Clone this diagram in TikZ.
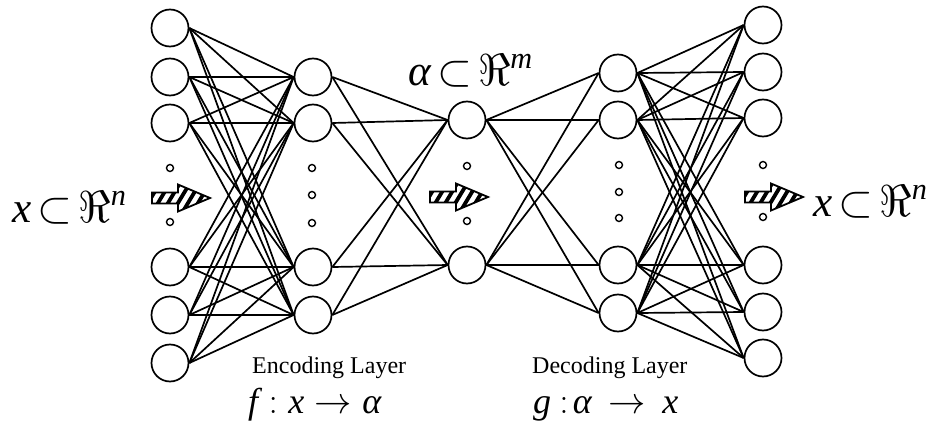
\documentclass[tikz,border=0pt]{standalone}
\usepackage{fontspec}
\setmainfont{Liberation Serif}
\newcommand{\biglbl}[2]{\scalebox{#1}{\fontsize{24}{24}\selectfont$#2$}}
\newcommand{\tsub}{\mskip2.5mu\mathord{\subset}\mskip2.5mu}
\begin{document}
\begin{tikzpicture}[x=1pt,y=-1pt,
  neuron/.style={circle,draw,line width=1.7pt,minimum size=37pt,inner sep=0pt},
  dotnode/.style={circle,draw,line width=1.4pt,minimum size=7pt,inner sep=0pt},
  link/.style={line width=1.7pt},
  lbl/.style={inner sep=0pt},
  hatcharrow/.pic={
    \path[fill=white] (0,-5.5)--(26,-5.5)--(26,-13.5)--(58,0)--(26,13.5)--(26,5.5)--(0,5.5)--cycle;
    \begin{scope}
      \clip (0,-5.5)--(26,-5.5)--(26,-13.5)--(58,0)--(26,13.5)--(26,5.5)--(0,5.5)--cycle;
      \foreach \s in {-20,-10,...,60} \draw[line width=3.8pt] (\s,15)--(\s+18,-15);
    \end{scope}
    \draw[line width=1.8pt,line join=miter] (0,-5.5)--(26,-5.5)--(26,-13.5)--(58,0)--(26,13.5)--(26,5.5)--(0,5.5)--cycle;
  }]
\useasboundingbox[fill=white] (0,0) rectangle (938,423);

% layers
\foreach \n/\y in {1/28,2/77,3/123,4/267,5/315,6/363} \node[neuron] (i\n) at (170,\y) {};
\foreach \n/\y in {1/77,2/123,3/267,4/315} \node[neuron] (a\n) at (313,\y) {};
\node[neuron] (m1) at (467,120) {};
\node[neuron] (m2) at (467,265) {};
\foreach \n/\y in {1/73,2/120,3/265,4/313} \node[neuron] (b\n) at (618,\y) {};
\foreach \n/\y in {1/25,2/72,3/118,4/265,5/312,6/358} \node[neuron] (o\n) at (763,\y) {};

% connections
\foreach \i in {1,...,6} \foreach \j in {1,...,4} \draw[link] (i\i.east) -- (a\j.west);
\foreach \i in {1,...,4} \foreach \j in {1,2} \draw[link] (a\i.east) -- (m\j.west);
\foreach \i in {1,2} \foreach \j in {1,...,4} \draw[link] (m\i.east) -- (b\j.west);
\foreach \i in {1,...,4} \foreach \j in {1,...,6} \draw[link] (b\i.east) -- (o\j.west);

% ellipsis dots
\node[dotnode] (di1) at (170,168) {};
\node[dotnode] (di2) at (170,222) {};
\node[dotnode] (da1) at (312,168) {};
\node[dotnode] (da2) at (312,195) {};
\node[dotnode] (da3) at (312,223) {};
\node[dotnode] (dm1) at (467,166) {};
\node[dotnode] (dm2) at (467,221) {};
\node[dotnode] (db1) at (619,165) {};
\node[dotnode] (db2) at (619,192) {};
\node[dotnode] (db3) at (619,218) {};
\node[dotnode] (do1) at (763,165) {};
\node[dotnode] (do2) at (763,217) {};

% hatched arrows
\pic at (152,198) {hatcharrow};
\pic at (430,197) {hatcharrow};
\pic at (745,197) {hatcharrow};

% labels
\node[lbl,anchor=base west] (xin) at (12,222) {\biglbl{1.8}{\mathit{x}\tsub\Re^{\mathit{n}}}};
\node[lbl,anchor=base west] (xout) at (813,216) {\biglbl{1.8}{\mathit{x}\tsub\Re^{\mathit{n}}}};
\node[lbl,anchor=base west] (alab) at (408,85) {\biglbl{1.8}{\mathit{α}\tsub\Re^{\mathit{m}}}};
\node[lbl,anchor=base west] (enc) at (252,373) {\fontsize{24}{24}\selectfont Encoding Layer};
\node[lbl,anchor=base west] (fmap) at (248,413) {\biglbl{1.5}{\mathit{f}:\mathit{x}\rightarrow\mathit{α}}};
\node[lbl,anchor=base west] (dec) at (532,373) {\fontsize{24}{24}\selectfont Decoding Layer};
\node[lbl,anchor=base west] (gmap) at (533,413) {\biglbl{1.5}{\mathit{g}\mskip4mu{:}\mskip2mu\mathit{α}\mskip3mu\rightarrow\mskip3mu\mathit{x}}};
\end{tikzpicture}
\end{document}
